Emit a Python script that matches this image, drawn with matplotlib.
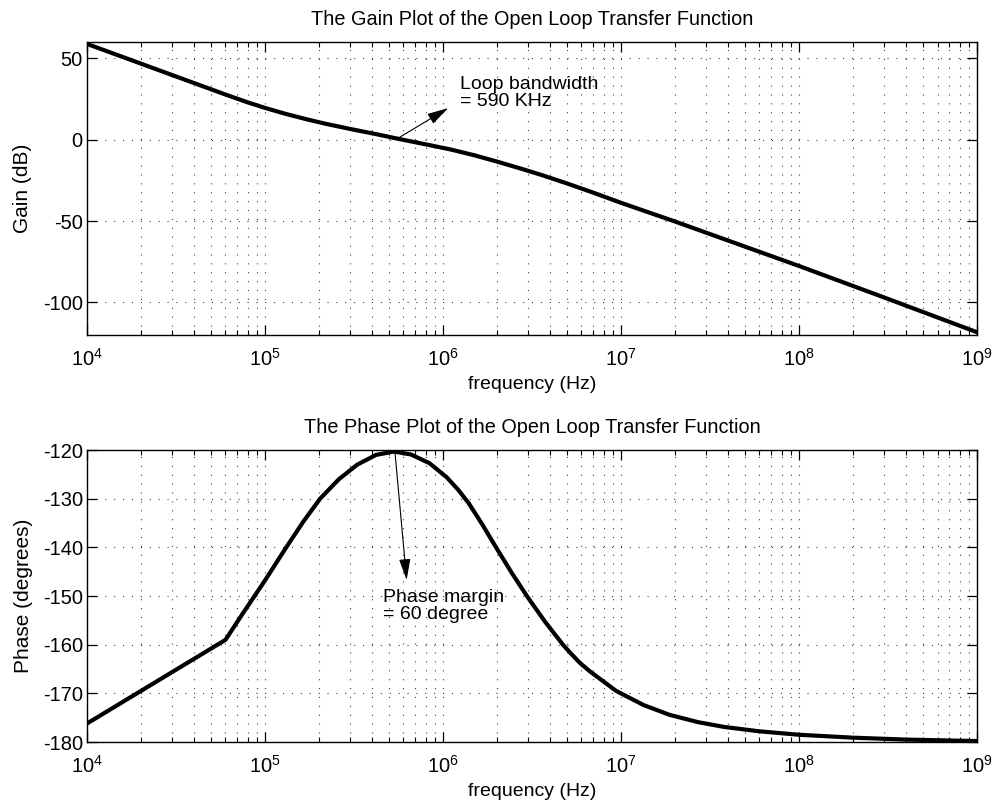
import matplotlib
matplotlib.use("Agg")
import matplotlib.pyplot as plt
from matplotlib.ticker import LogLocator, NullFormatter

plt.rcParams['font.family'] = ['Liberation Sans', 'DejaVu Sans']
plt.rcParams['mathtext.fontset'] = 'custom'
plt.rcParams['mathtext.rm'] = 'Liberation Sans'
plt.rcParams['mathtext.it'] = 'Liberation Sans'
plt.rcParams['axes.unicode_minus'] = False

# values
gain_freq = [1e4, 6e4, 8e4, 1e5, 1.3e5, 1.7e5, 2.2e5, 3e5, 4.2e5, 5.9e5, 8e5,
             1.1e6, 1.5e6, 2e6, 2.7e6, 3.6e6, 5e6, 7e6, 1e7, 2e7, 1e8, 3e8, 1e9]
gain_db = [58.8, 27.7, 22.9, 19.5, 15.9, 12.6, 9.7, 6.6, 3.4, 0.0, -2.9,
           -6.0, -9.6, -13.4, -17.6, -21.8, -27.0, -32.6, -38.8, -50.2, -77.6, -96.9, -118.3]

phase_freq = [1e4, 6e4, 7.5e4, 1e5, 1.3e5, 1.65e5, 2.04e5, 2.6e5, 3.3e5, 4.2e5,
              5.3e5, 6.6e5, 8.4e5, 1.05e6, 1.22e6, 1.4e6, 1.67e6, 2.01e6, 2.45e6, 3e6,
              3.75e6, 4.72e6, 5.2e6, 5.9e6, 6.7e6, 9.4e6, 1.34e7, 1.87e7, 2.7e7, 3.8e7,
              6e7, 1e8, 2e8, 4e8, 1e9]
phase_deg = [-176.2, -159.0, -153.6, -146.8, -140.3, -134.6, -130.0, -126.0, -123.0,
             -121.0, -120.3, -120.9, -122.7, -125.6, -128.2, -131.0, -135.4, -140.3,
             -145.4, -150.3, -155.3, -160.0, -161.7, -163.8, -165.5, -169.5, -172.4,
             -174.4, -175.9, -176.9, -177.8, -178.5, -179.1, -179.5, -179.8]

gain_ticks = [-100, -50, 0, 50]
phase_ticks = [-180, -170, -160, -150, -140, -130, -120]

fig = plt.figure(figsize=(9.95, 8.07), dpi=100)
ax1 = fig.add_axes([0.0874, 0.5849, 0.8945, 0.3631])
ax2 = fig.add_axes([0.0874, 0.0805, 0.8945, 0.3618])


def style(ax, ticks):
    ax.set_xscale('log')
    ax.set_xlim(1e4, 1e9)
    ax.set_yticks(ticks)
    ax.xaxis.set_minor_locator(LogLocator(base=10, subs=range(2, 10), numticks=20))
    ax.xaxis.set_minor_formatter(NullFormatter())
    ax.tick_params(which='both', direction='in', top=True, right=True)
    ax.tick_params(which='major', length=7, width=0.9)
    ax.tick_params(which='minor', length=3.5, width=0.8)
    ax.tick_params(axis='y', pad=3, labelsize=14.5)
    ax.tick_params(axis='x', pad=9, labelsize=14.5)
    ax.grid(True, which='major', axis='both', color='0.25', linestyle=(0, (1, 7)), linewidth=0.8)
    ax.grid(True, which='minor', axis='x', color='0.25', linestyle=(0, (1, 7)), linewidth=0.8)
    for s in ax.spines.values():
        s.set_linewidth(1.0)
    ax.set_xlabel('frequency (Hz)', fontsize=14, labelpad=5)


arrow = dict(arrowstyle='-|>,head_length=1.3,head_width=0.35',
             color='black', linewidth=0.8, shrinkA=0, shrinkB=0)

ax1.plot(gain_freq, gain_db, color='black', linewidth=3)
ax1.set_ylim(-120, 60)
style(ax1, gain_ticks)
ax1.set_ylabel('Gain (dB)', fontsize=15, labelpad=8)
ax1.set_title('The Gain Plot of the Open Loop Transfer Function', fontsize=14.3, pad=12)
ax1.annotate('', xy=(1.07e6, 19.4), xytext=(5.66e5, 1.2), arrowprops=arrow)
ax1.text(1.25e6, 28.4, 'Loop bandwidth\n= 590 KHz', fontsize=14, va='center',
         ha='left', linespacing=1.0)

ax2.plot(phase_freq, phase_deg, color='black', linewidth=3)
ax2.set_ylim(-180, -120)
style(ax2, phase_ticks)
ax2.set_ylabel('Phase (degrees)', fontsize=15, labelpad=7)
ax2.set_title('The Phase Plot of the Open Loop Transfer Function', fontsize=14.3, pad=12)
ax2.annotate('', xy=(6.25e5, -146.7), xytext=(5.37e5, -120.3), arrowprops=arrow)
ax2.text(4.58e5, -152.0, 'Phase margin\n= 60 degree', fontsize=14, va='center',
         ha='left', linespacing=1.0)

fig.savefig('out.png', dpi=100)
